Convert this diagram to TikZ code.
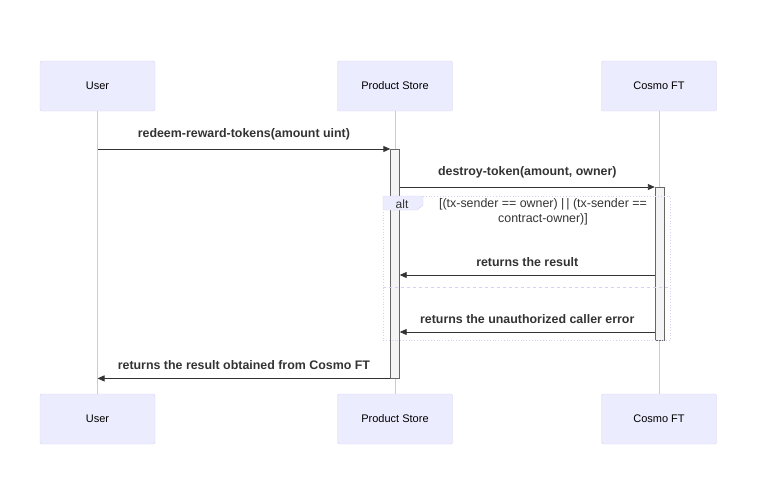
\documentclass[tikz,border=0pt]{standalone}
\usepackage{fontspec}
\setmainfont{Liberation Sans}
\usetikzlibrary{arrows.meta}

\definecolor{actorfill}{HTML}{ECECFF}
\definecolor{actorline}{HTML}{DACEF3}
\definecolor{lifeline}{HTML}{CCCCCC}
\definecolor{msgline}{HTML}{333333}
\definecolor{actfill}{HTML}{F4F4F4}
\definecolor{actline}{HTML}{666666}

\tikzset{
    actor/.style={draw=actorline, fill=actorfill, rounded corners=2pt, minimum width=115pt, minimum height=50pt, font=\fontsize{11}{13}\selectfont},
    activation/.style={draw=actline, fill=actfill, minimum width=9pt, inner sep=0pt},
    msg/.style={draw=msgline, line width=0.9pt, -{Triangle[length=7pt, width=6pt]}},
    msgtext/.style={font=\fontsize{12.4}{14}\selectfont\bfseries, text=msgline},
}

\begin{document}
\begin{tikzpicture}[x=1pt, y=-1pt]
    \useasboundingbox (0,0) rectangle (758,499);

    % actors top
    \node[actor] (userT) at (97.5,86) {User};
    \node[actor] (storeT) at (395,86) {Product Store};
    \node[actor] (ftT) at (659,86) {Cosmo FT};

    % actors bottom
    \node[actor] (userB) at (97.5,419) {User};
    \node[actor] (storeB) at (395,419) {Product Store};
    \node[actor] (ftB) at (659,419) {Cosmo FT};

    % lifelines
    \draw[lifeline, line width=0.6pt] (userT) -- (userB);
    \draw[lifeline, line width=0.6pt] (storeT) -- (storeB);
    \draw[lifeline, line width=0.6pt] (ftT) -- (ftB);

    % activations
    \node[activation, anchor=north, minimum height=229pt] (storeAct) at (395,149) {};
    \node[activation, anchor=north, minimum height=153pt] (ftAct) at (659.5,187) {};

    % alt frame
    \node[draw=actorline, dotted, line width=0.8pt, anchor=north west, minimum width=287pt, minimum height=144pt, inner sep=0pt] (altBox) at (383,196) {};
    \filldraw[draw=actorline, fill=actorfill] (altBox.north west) -- ++(40,0) -- ++(0,9) -- ++(-6,5) -- ++(-34,0) -- cycle;
    \node[font=\fontsize{12}{14}\selectfont, text=msgline] (altLabel) at (402,204) {alt};
    \node[font=\fontsize{12.4}{15}\selectfont, text=msgline, align=center] (altCond) at (543,212) {[(tx-sender == owner) |\,| (tx-sender ==\\contract-owner)]};
    \coordinate (altSep) at (0,287);
    \draw[actorline, dashed, line width=0.8pt] (altBox.west |- altSep) -- (altBox.east |- altSep);

    % messages
    \draw[msg] (userT |- storeAct.north) -- (storeAct.north west) node[midway, above=5pt, msgtext] {redeem-reward-tokens(amount uint)};
    \draw[msg] (storeAct.east |- ftAct.north) -- (ftAct.north west) node[midway, above=5pt, msgtext] {destroy-token(amount, owner)};

    \coordinate (result) at (0,275);
    \draw[msg] (ftAct.west |- result) -- (storeAct.east |- result) node[midway, above=5pt, msgtext] {returns the result};

    \coordinate (error) at (0,332);
    \draw[msg] (ftAct.west |- error) -- (storeAct.east |- error) node[midway, above=5pt, msgtext] {returns the unauthorized caller error};

    \draw[msg] (storeAct.south west) -- (userT |- storeAct.south) node[midway, above=5pt, msgtext] {returns the result obtained from Cosmo FT};
\end{tikzpicture}
\end{document}
